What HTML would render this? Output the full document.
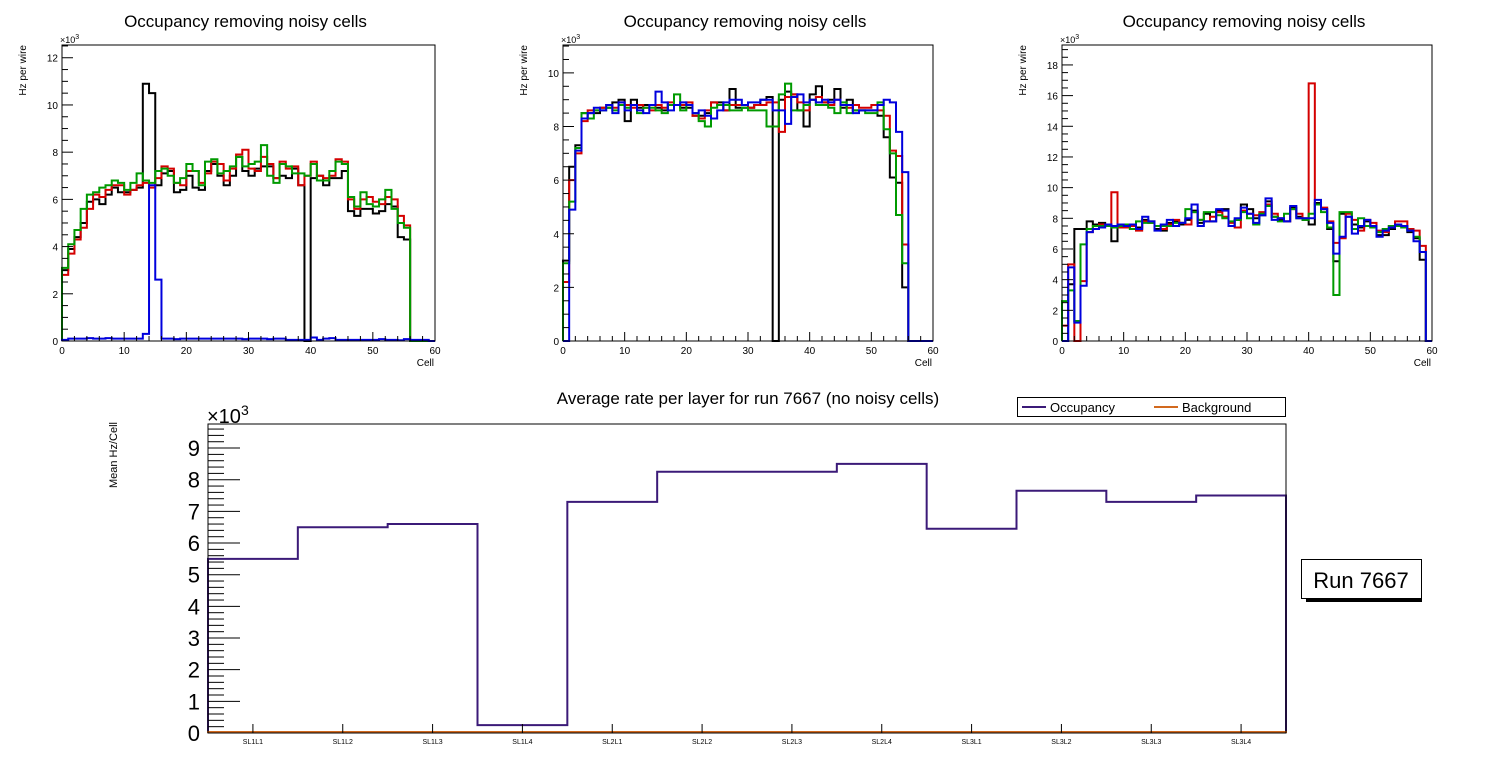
<!DOCTYPE html>
<html><head><meta charset="utf-8">
<style>
html,body{margin:0;padding:0;background:#fff;}
svg{display:block;font-family:"Liberation Sans",Arial,sans-serif;}
</style></head>
<body>
<svg id="c" width="1496" height="772" viewBox="0 0 1496 772"></svg>
<script>
// ===== data =====
const p1Black=[3.0,3.9,4.4,5.0,5.9,6.0,5.8,6.2,6.5,6.3,6.3,6.4,6.5,10.9,10.5,6.6,7.1,7.2,6.3,6.4,7.0,6.5,6.4,7.2,7.5,7.0,6.6,7.0,7.8,7.2,7.0,7.3,7.4,7.4,6.9,7.0,6.9,7.3,6.6,0,6.9,7.0,6.6,6.9,6.9,7.2,5.5,5.3,5.6,5.6,5.4,5.5,5.8,5.7,4.4,4.3,0,0,0,0];
const p1Red=[2.8,3.7,4.3,4.8,5.6,6.2,6.1,6.4,6.6,6.6,6.2,6.4,6.6,6.7,6.5,6.9,7.4,7.3,6.7,6.6,7.2,7.2,6.7,7.1,7.6,7.5,6.8,7.3,7.9,8.1,7.3,7.2,7.8,7.5,6.9,7.6,7.3,7.4,6.6,7.0,7.6,7.0,6.9,7.0,7.7,7.6,6.0,5.6,6.0,6.1,5.9,5.8,6.1,6.0,5.3,4.9,0,0,0,0];
const p1Green=[3.1,4.1,4.7,5.6,6.2,6.3,6.5,6.6,6.8,6.7,6.4,6.7,7.1,6.8,6.7,7.2,7.3,7.0,6.7,6.9,7.5,7.2,6.6,7.6,7.7,7.1,7.2,7.4,7.8,7.4,7.5,7.6,8.3,7.0,6.7,7.5,7.4,7.1,7.1,7.0,7.5,6.8,6.8,7.2,7.6,7.5,6.1,5.7,6.3,5.8,5.7,6.0,6.4,5.6,5.0,4.8,0,0,0,0];
const p1Blue=[0.05,0.1,0.1,0.1,0.12,0.1,0.1,0.12,0.1,0.1,0.1,0.1,0.1,0.3,6.6,2.6,0.1,0.1,0.08,0.1,0.1,0.1,0.1,0.1,0.1,0.1,0.1,0.1,0.1,0.08,0.1,0.1,0.1,0.08,0.1,0.1,0.05,0.05,0.05,0.05,0.15,0.05,0.1,0.12,0.05,0.05,0.05,0.05,0.05,0.05,0.05,0.08,0.05,0.05,0.03,0.08,0.05,0.05,0.05,0];
const p2Black=[3.0,6.5,7.3,8.5,8.5,8.5,8.7,8.7,8.9,9.0,8.2,9.0,8.7,8.8,8.8,8.7,8.6,8.8,8.8,8.7,8.7,8.4,8.4,8.5,8.9,8.9,8.6,9.4,8.7,8.7,8.7,8.8,9.0,9.1,0,9.0,9.3,9.2,8.6,8.0,9.2,9.5,8.9,9.0,9.4,8.7,9.0,8.6,8.6,8.6,8.6,8.4,7.6,6.1,5.9,2.0,0,0,0,0];
const p2Red=[2.2,6.0,7.0,8.2,8.6,8.6,8.7,8.8,8.7,8.9,8.8,8.7,8.8,8.7,8.6,8.8,8.7,8.9,8.8,8.8,8.9,8.4,8.3,8.6,8.9,8.8,8.6,8.8,8.8,8.8,8.7,8.8,8.8,8.9,8.9,7.8,9.1,9.2,8.9,8.6,9.0,9.1,8.9,8.8,9.0,8.8,8.7,8.8,8.7,8.7,8.8,8.6,8.4,7.1,6.9,3.6,0,0,0,0];
const p2Green=[2.9,5.2,7.2,8.5,8.3,8.6,8.6,8.7,8.6,8.8,8.7,8.8,8.5,8.7,8.7,8.6,8.5,8.8,9.2,8.6,8.8,8.5,8.2,8.0,8.7,8.8,8.8,8.6,8.6,8.7,8.6,8.6,8.6,8.0,8.0,9.2,9.6,8.6,8.6,8.8,9.0,8.8,8.8,8.7,8.5,8.9,8.5,8.6,8.6,8.5,8.5,8.9,7.9,7.0,4.7,2.9,0,0,0,0];
const p2Blue=[0,4.9,7.1,8.3,8.5,8.7,8.6,8.8,8.5,8.9,8.6,8.8,8.6,8.5,8.8,9.3,8.9,8.6,8.8,8.9,8.8,8.5,8.6,8.4,8.3,8.6,8.9,9.0,9.0,8.8,8.9,8.9,9.0,9.0,8.6,8.6,8.1,9.1,9.2,8.9,9.0,8.9,9.0,8.9,9.0,8.8,8.8,8.5,8.6,8.6,8.6,8.8,9.0,8.9,7.8,6.3,0,0,0,0];
const p3Black=[0,3.7,7.3,7.3,7.8,7.6,7.7,7.6,6.5,7.6,7.6,7.5,7.4,7.9,7.8,7.3,7.2,7.7,7.8,7.6,7.9,8.5,7.7,8.3,7.8,8.5,8.6,7.5,7.9,8.9,8.6,8.0,8.2,9.1,8.1,7.9,7.8,8.7,8.1,7.9,7.6,9.0,8.6,7.3,5.2,8.3,8.1,7.6,7.4,7.8,7.4,6.9,6.9,7.3,7.6,7.5,7.1,6.7,5.3,0];
const p3Red=[1.0,5.0,0,3.9,7.1,7.5,7.6,7.6,9.7,7.4,7.4,7.5,7.2,7.8,7.7,7.5,7.3,7.6,7.9,7.7,7.6,8.4,7.9,7.8,8.1,8.4,8.1,7.7,7.4,8.5,8.3,8.2,8.4,8.9,8.3,8.0,7.8,8.6,8.3,8.0,16.8,8.9,8.7,7.8,6.4,6.7,8.3,7.9,7.2,7.9,7.7,7.2,7.1,7.5,7.8,7.8,7.3,7.2,6.2,0];
const p3Green=[2.6,3.3,1.3,6.3,7.3,7.5,7.5,7.5,7.4,7.5,7.6,7.3,7.8,7.7,7.7,7.5,7.5,7.5,7.7,7.7,8.6,8.4,7.9,8.4,8.4,8.2,8.0,7.8,7.9,8.4,8.0,7.6,8.3,8.8,8.1,7.8,8.3,8.6,8.0,7.9,8.3,8.9,8.4,7.4,3.0,8.4,8.4,7.3,8.0,7.5,7.4,7.1,7.3,7.5,7.5,7.4,7.2,6.8,5.8,0];
const p3Blue=[0,4.8,1.2,3.6,7.1,7.3,7.4,7.6,7.5,7.6,7.5,7.6,7.3,8.1,7.8,7.2,7.6,7.9,7.5,7.7,8.0,8.9,7.5,7.8,7.8,8.6,8.5,7.5,8.0,8.7,8.3,7.7,8.2,9.3,7.9,8.0,7.8,8.8,8.0,8.0,8.0,9.2,8.6,7.7,5.7,6.8,8.1,7.0,7.5,7.9,7.5,6.8,7.2,7.4,7.6,7.5,7.2,6.5,5.8,0];
const layerLabels=["SL1L1","SL1L2","SL1L3","SL1L4","SL2L1","SL2L2","SL2L3","SL2L4","SL3L1","SL3L2","SL3L3","SL3L4"];
const occupancy=[5.5,6.5,6.6,0.25,7.3,8.25,8.25,8.5,6.45,7.65,7.3,7.5];
const background=[0.03,0.03,0.03,0.03,0.03,0.03,0.03,0.03,0.03,0.03,0.03,0.03];
const topYTicks1=[0,2,4,6,8,10,12];
const topYTicks2=[0,2,4,6,8,10];
const topYTicks3=[0,2,4,6,8,10,12,14,16,18];
const cellTicks=[0,10,20,30,40,50,60];
const botYTicks=[0,1,2,3,4,5,6,7,8,9];

const NS="http://www.w3.org/2000/svg";
const svg=document.getElementById('c');
function mk(tag,attrs,parent,txt){const e=document.createElementNS(NS,tag);for(const k in attrs)e.setAttribute(k,attrs[k]);if(txt!==undefined)e.textContent=txt;(parent||svg).appendChild(e);return e;}

function histPath(vals,sx,sy,y0){
  let d="M"+sx(0)+","+y0;
  for(let i=0;i<vals.length;i++){const y=sy(vals[i]);d+=" L"+sx(i)+","+y+" L"+sx(i+1)+","+y;}
  d+=" L"+sx(vals.length)+","+y0;return d;
}

function topPlot(id,fx0,fx1,ymax,yTicks,series){
  const fy0=45,fy1=341;
  const g=mk('g',{});
  
  
  const sx=v=>fx0+(fx1-fx0)*v/60;
  const sy=v=>fy1-(fy1-fy0)*v/ymax;
  const t=mk('text',{x:(fx0+fx1)/2-3,y:27,'font-size':17,'text-anchor':'middle'},g,'Occupancy removing noisy cells');
  
  // series
  const cols=['#000000','#d40000','#009a00','#0000dd'];
  series.forEach((s,i)=>{const p=mk('path',{d:histPath(s,sx,sy,fy1),fill:'none',stroke:cols[i],'stroke-width':2},g);
    });
  const fr=mk('rect',{x:fx0,y:fy0,width:fx1-fx0,height:fy1-fy0,fill:'none',stroke:'#000','stroke-width':1},g);
  
  // y ticks
  for(let v=0;v<=ymax+1e-6;v+=0.5){const maj=Math.abs(v/2-Math.round(v/2))<1e-6;
    mk('line',{x1:fx0,x2:fx0+(maj?11:6),y1:sy(v),y2:sy(v),stroke:'#000','stroke-width':1},g);}
  yTicks.forEach(v=>{const l=mk('text',{x:fx0-4,y:sy(v)+4,'font-size':10,'text-anchor':'end'},g,String(v));
    });
  // x ticks
  for(let v=0;v<=60;v+=2){const maj=v%10===0;mk('line',{x1:sx(v),x2:sx(v),y1:fy1,y2:fy1-(maj?9:5),stroke:'#000','stroke-width':1},g);}
  cellTicks.forEach(v=>{const l=mk('text',{x:sx(v),y:354,'font-size':10,'text-anchor':'middle'},g,String(v));
    });
  const ex=mk('text',{x:fx0-2,y:43,'font-size':9},g,'×10');mk('tspan',{dy:-4,'font-size':7},ex,'3');
  
  const xl=mk('text',{x:fx1-1,y:366,'font-size':10,'text-anchor':'end'},g,'Cell');
  
  const yl=mk('text',{x:0,y:0,'font-size':10,'text-anchor':'end',transform:'translate('+(fx0-36)+',45) rotate(-90)'},g,'Hz per wire');
  
}
topPlot('occupancy-plot-1',62,435,12.54,topYTicks1,[p1Black,p1Red,p1Green,p1Blue]);
topPlot('occupancy-plot-2',563,933,11.04,topYTicks2,[p2Black,p2Red,p2Green,p2Blue]);
topPlot('occupancy-plot-3',1062,1432,19.3,topYTicks3,[p3Black,p3Red,p3Green,p3Blue]);

// ===== bottom chart =====
(function(){
  const fx0=208,fx1=1286,fy0=424,fy1=733,ymax=9.76;
  const n=layerLabels.length;
  const sx=i=>fx0+(fx1-fx0)*i/n;
  const sy=v=>fy1-(fy1-fy0)*v/ymax;
  const g=mk('g',{});
  
  const t=mk('text',{x:748,y:404,'font-size':17,'text-anchor':'middle'},g,'Average rate per layer for run 7667 (no noisy cells)');
  
  const ob=mk('path',{d:histPath(occupancy,sx,sy,fy1),fill:'none',stroke:'#3b1a78','stroke-width':2},g);
  
  const bg=mk('path',{d:histPath(background,sx,sy,fy1),fill:'none',stroke:'#d2691e','stroke-width':2},g);
  
  const fr=mk('rect',{x:fx0,y:fy0,width:fx1-fx0,height:fy1-fy0,fill:'none',stroke:'#000','stroke-width':1},g);
  
  for(let k=0;k<=48;k++){const v=k*0.2;if(v>ymax)break;const maj=k%5===0;
    mk('line',{x1:fx0,x2:fx0+(maj?32:16),y1:sy(v),y2:sy(v),stroke:'#000','stroke-width':1},g);}
  botYTicks.forEach(v=>{const l=mk('text',{x:fx0-8,y:sy(v)+8,'font-size':22,'text-anchor':'end'},g,String(v));
    });
  layerLabels.forEach((s,i)=>{const cx=(sx(i)+sx(i+1))/2;
    mk('line',{x1:cx,x2:cx,y1:fy1,y2:fy1-9,stroke:'#000','stroke-width':1},g);
    const l=mk('text',{x:cx,y:744,'font-size':7,'text-anchor':'middle'},g,s);
    });
  const ex=mk('text',{x:207,y:423,'font-size':20},g,'×10');mk('tspan',{dy:-8,'font-size':14},ex,'3');
  
  const yl=mk('text',{x:0,y:0,'font-size':11,'text-anchor':'end',transform:'translate(117,422) rotate(-90)'},g,'Mean Hz/Cell');
  
  // legend
  const lg=mk('g',{},g);
  
  mk('rect',{x:1017.5,y:397.5,width:268,height:19,fill:'#fff',stroke:'#000','stroke-width':1},lg);
  mk('line',{x1:1022,x2:1046,y1:407,y2:407,stroke:'#3b1a78','stroke-width':2},lg);
  const l1=mk('text',{x:1050,y:412,'font-size':13},lg,'Occupancy');
  
  mk('line',{x1:1154,x2:1178,y1:407,y2:407,stroke:'#d2691e','stroke-width':2},lg);
  const l2=mk('text',{x:1182,y:412,'font-size':13},lg,'Background');
  
  // run box
  const rb=mk('g',{});
  
  mk('rect',{x:1306,y:563,width:116,height:39,fill:'#000'},rb);
  mk('rect',{x:1301.5,y:559.5,width:120,height:39,fill:'#fff',stroke:'#000','stroke-width':1},rb);
  mk('text',{x:1361,y:588,'font-size':22,'text-anchor':'middle'},rb,'Run 7667');
})();
</script>
</body></html>
